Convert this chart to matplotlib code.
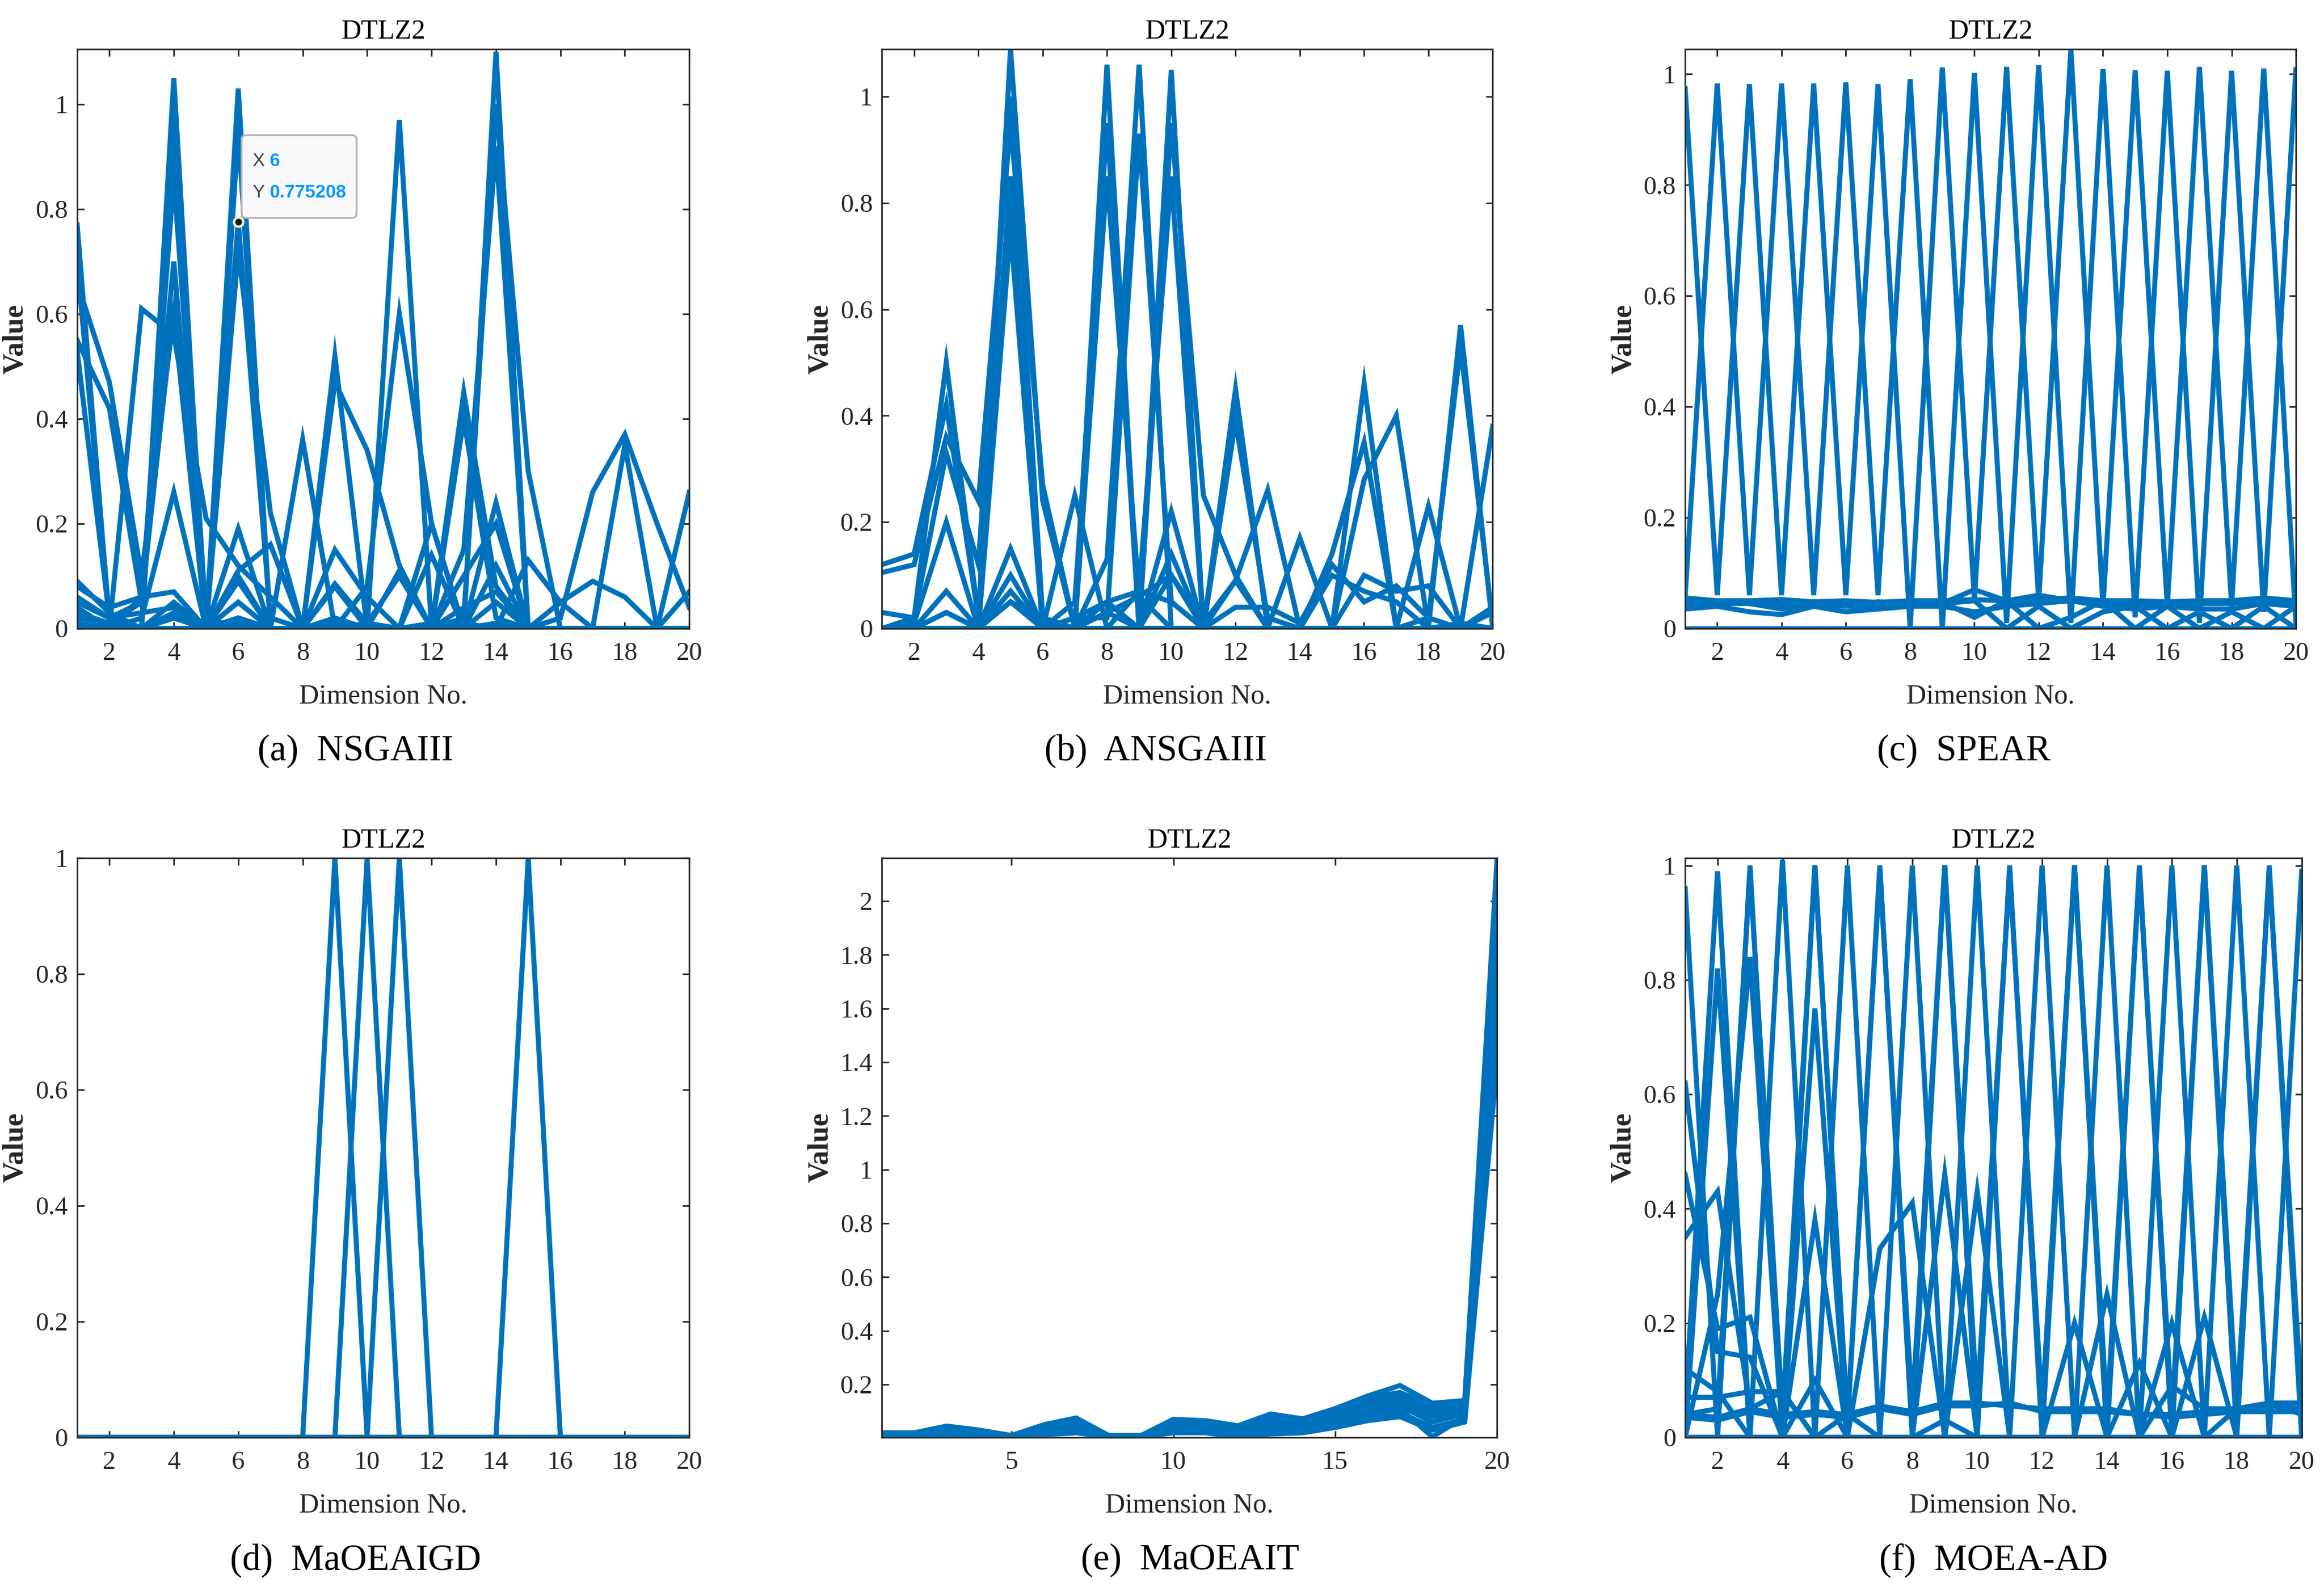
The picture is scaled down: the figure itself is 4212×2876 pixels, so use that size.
import matplotlib
matplotlib.use("Agg")
import matplotlib.pyplot as plt
from matplotlib.patches import FancyBboxPatch
from matplotlib.ticker import FuncFormatter
from matplotlib.transforms import Affine2D, ScaledTranslation

# ---------------------------------------------------------------- data
dims = list(range(1, 21))
yticks_unit = [0, 0.2, 0.4, 0.6, 0.8, 1]
yticks_it = [0.2, 0.4, 0.6, 0.8, 1.0, 1.2, 1.4, 1.6, 1.8, 2.0]
xticks_even = [2, 4, 6, 8, 10, 12, 14, 16, 18, 20]
xticks_five = [5, 10, 15, 20]

nsgaiii_lines = [
    [0.77, 0.01, 0.00, 0.02, 0.00, 0.01, 0.00, 0.00, 0.01, 0.00, 0.00, 0.00, 0.01, 0.00, 0.00, 0.00, 0.00, 0.00, 0.00, 0.00],
    [0.70, 0.02, 0.00, 0.95, 0.02, 0.00, 0.00, 0.00, 0.00, 0.01, 0.00, 0.00, 0.00, 0.00, 0.00, 0.00, 0.00, 0.00, 0.00, 0.00],
    [0.66, 0.47, 0.10, 0.60, 0.00, 0.02, 0.00, 0.00, 0.01, 0.00, 0.00, 0.01, 0.00, 0.00, 0.00, 0.00, 0.00, 0.00, 0.00, 0.00],
    [0.55, 0.42, 0.05, 0.86, 0.02, 0.00, 0.00, 0.00, 0.00, 0.00, 0.00, 0.00, 0.00, 0.01, 0.00, 0.00, 0.00, 0.00, 0.00, 0.00],
    [0.53, 0.02, 0.00, 0.03, 0.00, 0.775208, 0.02, 0.00, 0.00, 0.00, 0.00, 0.00, 0.00, 0.00, 0.00, 0.00, 0.00, 0.00, 0.00, 0.00],
    [0.00, 0.00, 0.61, 0.56, 0.21, 0.12, 0.06, 0.00, 0.01, 0.00, 0.00, 0.00, 0.00, 0.00, 0.00, 0.00, 0.00, 0.00, 0.00, 0.00],
    [0.02, 0.01, 0.00, 1.05, 0.00, 0.01, 0.00, 0.00, 0.00, 0.00, 0.00, 0.00, 0.00, 0.05, 0.00, 0.00, 0.00, 0.00, 0.00, 0.00],
    [0.09, 0.03, 0.00, 0.97, 0.00, 0.00, 0.00, 0.00, 0.00, 0.00, 0.00, 0.00, 0.00, 0.00, 0.00, 0.00, 0.00, 0.00, 0.00, 0.00],
    [0.06, 0.02, 0.05, 0.90, 0.00, 0.10, 0.00, 0.00, 0.00, 0.00, 0.00, 0.00, 0.00, 0.00, 0.00, 0.00, 0.00, 0.00, 0.00, 0.00],
    [0.04, 0.00, 0.06, 0.70, 0.00, 0.05, 0.00, 0.00, 0.02, 0.00, 0.00, 0.00, 0.00, 0.00, 0.00, 0.00, 0.00, 0.00, 0.00, 0.00],
    [0.02, 0.01, 0.05, 0.62, 0.00, 0.00, 0.00, 0.00, 0.00, 0.00, 0.00, 0.00, 0.00, 0.00, 0.00, 0.00, 0.00, 0.00, 0.00, 0.00],
    [0.00, 0.00, 0.02, 0.26, 0.00, 0.00, 0.00, 0.00, 0.00, 0.00, 0.00, 0.00, 0.00, 0.00, 0.00, 0.00, 0.00, 0.00, 0.00, 0.00],
    [0.00, 0.01, 0.00, 0.02, 0.00, 1.03, 0.00, 0.00, 0.00, 0.00, 0.00, 0.00, 0.00, 0.00, 0.00, 0.00, 0.00, 0.00, 0.00, 0.00],
    [0.01, 0.00, 0.00, 0.00, 0.00, 0.95, 0.00, 0.00, 0.00, 0.00, 0.00, 0.00, 0.00, 0.00, 0.00, 0.00, 0.00, 0.00, 0.00, 0.00],
    [0.00, 0.00, 0.00, 0.00, 0.00, 0.72, 0.22, 0.00, 0.00, 0.00, 0.00, 0.00, 0.00, 0.00, 0.00, 0.00, 0.00, 0.00, 0.00, 0.00],
    [0.00, 0.00, 0.00, 0.00, 0.00, 0.19, 0.00, 0.36, 0.00, 0.00, 0.00, 0.00, 0.00, 0.00, 0.00, 0.00, 0.00, 0.00, 0.00, 0.00],
    [0.00, 0.00, 0.00, 0.00, 0.00, 0.00, 0.00, 0.00, 0.52, 0.00, 0.97, 0.00, 0.00, 0.00, 0.00, 0.00, 0.00, 0.00, 0.00, 0.00],
    [0.00, 0.00, 0.00, 0.00, 0.00, 0.11, 0.16, 0.00, 0.47, 0.34, 0.12, 0.00, 0.00, 0.00, 0.00, 0.00, 0.00, 0.00, 0.00, 0.00],
    [0.00, 0.00, 0.00, 0.00, 0.00, 0.00, 0.00, 0.00, 0.00, 0.08, 0.60, 0.20, 0.00, 0.00, 0.00, 0.00, 0.00, 0.00, 0.00, 0.00],
    [0.00, 0.00, 0.00, 0.00, 0.00, 0.00, 0.00, 0.00, 0.00, 0.00, 0.00, 0.00, 0.45, 0.08, 0.00, 0.00, 0.00, 0.00, 0.00, 0.00],
    [0.00, 0.00, 0.00, 0.00, 0.00, 0.00, 0.00, 0.00, 0.00, 0.00, 0.00, 0.00, 0.40, 0.02, 0.00, 0.00, 0.00, 0.00, 0.00, 0.00],
    [0.00, 0.00, 0.00, 0.00, 0.00, 0.00, 0.00, 0.00, 0.00, 0.00, 0.00, 0.00, 0.00, 1.10, 0.00, 0.00, 0.00, 0.00, 0.00, 0.00],
    [0.00, 0.00, 0.00, 0.00, 0.00, 0.00, 0.00, 0.00, 0.00, 0.00, 0.00, 0.00, 0.02, 1.00, 0.30, 0.00, 0.00, 0.00, 0.00, 0.00],
    [0.00, 0.00, 0.00, 0.00, 0.00, 0.00, 0.00, 0.00, 0.00, 0.00, 0.00, 0.00, 0.15, 0.92, 0.00, 0.00, 0.00, 0.00, 0.00, 0.00],
    [0.00, 0.00, 0.00, 0.00, 0.00, 0.00, 0.00, 0.00, 0.00, 0.00, 0.00, 0.14, 0.00, 0.24, 0.00, 0.05, 0.00, 0.00, 0.00, 0.00],
    [0.00, 0.00, 0.00, 0.00, 0.00, 0.00, 0.00, 0.00, 0.00, 0.00, 0.00, 0.00, 0.00, 0.00, 0.00, 0.02, 0.26, 0.37, 0.20, 0.04],
    [0.00, 0.00, 0.00, 0.00, 0.00, 0.00, 0.00, 0.00, 0.00, 0.00, 0.00, 0.00, 0.00, 0.00, 0.00, 0.00, 0.00, 0.35, 0.00, 0.26],
    [0.00, 0.00, 0.00, 0.00, 0.00, 0.00, 0.00, 0.00, 0.00, 0.00, 0.00, 0.00, 0.00, 0.00, 0.13, 0.05, 0.09, 0.06, 0.00, 0.07],
    [0.08, 0.04, 0.06, 0.07, 0.00, 0.05, 0.00, 0.00, 0.08, 0.00, 0.11, 0.00, 0.10, 0.20, 0.00, 0.00, 0.00, 0.00, 0.00, 0.00],
    [0.05, 0.02, 0.03, 0.04, 0.00, 0.02, 0.00, 0.00, 0.15, 0.06, 0.00, 0.20, 0.00, 0.12, 0.00, 0.00, 0.00, 0.00, 0.00, 0.00],
    [0.03, 0.01, 0.00, 0.05, 0.00, 0.09, 0.00, 0.00, 0.085, 0.01, 0.10, 0.00, 0.04, 0.07, 0.00, 0.00, 0.00, 0.00, 0.00, 0.00],
]

ansgaiii_lines = [
    [0.12, 0.14, 0.42, 0.02, 1.09, 0.24, 0.00, 0.00, 0.00, 0.00, 0.00, 0.00, 0.00, 0.00, 0.00, 0.00, 0.00, 0.00, 0.00, 0.00],
    [0.105, 0.12, 0.36, 0.24, 0.95, 0.27, 0.00, 0.00, 0.00, 0.00, 0.00, 0.00, 0.00, 0.00, 0.00, 0.00, 0.00, 0.00, 0.00, 0.00],
    [0.03, 0.02, 0.50, 0.02, 0.85, 0.00, 0.00, 0.05, 0.00, 0.00, 0.00, 0.00, 0.00, 0.00, 0.00, 0.00, 0.00, 0.00, 0.00, 0.00],
    [0.00, 0.02, 0.33, 0.12, 1.00, 0.02, 0.00, 0.00, 0.00, 0.00, 0.00, 0.00, 0.00, 0.00, 0.00, 0.00, 0.00, 0.00, 0.00, 0.00],
    [0.00, 0.01, 0.20, 0.00, 0.80, 0.00, 0.00, 0.00, 0.00, 0.00, 0.00, 0.00, 0.00, 0.00, 0.00, 0.00, 0.00, 0.00, 0.00, 0.00],
    [0.00, 0.00, 0.07, 0.00, 0.75, 0.00, 0.00, 0.00, 0.00, 0.00, 0.00, 0.00, 0.00, 0.00, 0.00, 0.00, 0.00, 0.00, 0.00, 0.00],
    [0.00, 0.00, 0.03, 0.00, 0.15, 0.00, 0.25, 0.00, 0.00, 0.00, 0.00, 0.00, 0.00, 0.00, 0.00, 0.00, 0.00, 0.00, 0.00, 0.00],
    [0.00, 0.00, 0.00, 0.00, 0.10, 0.00, 0.00, 1.06, 0.00, 0.00, 0.00, 0.00, 0.00, 0.00, 0.00, 0.00, 0.00, 0.00, 0.00, 0.00],
    [0.00, 0.00, 0.00, 0.00, 0.07, 0.00, 0.05, 0.95, 0.00, 0.00, 0.00, 0.00, 0.00, 0.00, 0.00, 0.00, 0.00, 0.00, 0.00, 0.00],
    [0.00, 0.00, 0.00, 0.00, 0.05, 0.02, 0.00, 0.85, 0.06, 0.00, 0.00, 0.00, 0.00, 0.00, 0.00, 0.00, 0.00, 0.00, 0.00, 0.00],
    [0.00, 0.00, 0.00, 0.00, 0.00, 0.00, 0.00, 0.13, 1.06, 0.00, 0.00, 0.00, 0.00, 0.00, 0.00, 0.00, 0.00, 0.00, 0.00, 0.00],
    [0.00, 0.00, 0.00, 0.00, 0.00, 0.00, 0.02, 0.02, 0.93, 0.05, 0.00, 0.00, 0.00, 0.00, 0.00, 0.00, 0.00, 0.00, 0.00, 0.00],
    [0.00, 0.00, 0.00, 0.00, 0.00, 0.00, 0.00, 0.00, 0.00, 1.05, 0.00, 0.00, 0.00, 0.00, 0.00, 0.00, 0.00, 0.00, 0.00, 0.00],
    [0.00, 0.00, 0.00, 0.00, 0.00, 0.00, 0.00, 0.03, 0.00, 0.95, 0.25, 0.10, 0.00, 0.00, 0.00, 0.00, 0.00, 0.00, 0.00, 0.00],
    [0.00, 0.00, 0.00, 0.00, 0.00, 0.00, 0.00, 0.00, 0.07, 0.85, 0.00, 0.00, 0.00, 0.00, 0.00, 0.00, 0.00, 0.00, 0.00, 0.00],
    [0.00, 0.00, 0.00, 0.00, 0.00, 0.00, 0.00, 0.00, 0.00, 0.22, 0.00, 0.45, 0.00, 0.00, 0.00, 0.00, 0.00, 0.00, 0.00, 0.00],
    [0.00, 0.00, 0.00, 0.00, 0.00, 0.00, 0.00, 0.00, 0.00, 0.14, 0.00, 0.39, 0.02, 0.00, 0.00, 0.00, 0.00, 0.00, 0.00, 0.00],
    [0.00, 0.00, 0.00, 0.00, 0.00, 0.00, 0.00, 0.00, 0.00, 0.10, 0.00, 0.09, 0.26, 0.00, 0.00, 0.00, 0.00, 0.00, 0.00, 0.00],
    [0.00, 0.00, 0.00, 0.00, 0.00, 0.00, 0.00, 0.00, 0.00, 0.00, 0.00, 0.00, 0.00, 0.17, 0.00, 0.46, 0.00, 0.00, 0.00, 0.00],
    [0.00, 0.00, 0.00, 0.00, 0.00, 0.00, 0.00, 0.00, 0.00, 0.00, 0.00, 0.00, 0.00, 0.00, 0.14, 0.35, 0.00, 0.23, 0.00, 0.00],
    [0.00, 0.00, 0.00, 0.00, 0.00, 0.00, 0.00, 0.00, 0.00, 0.00, 0.00, 0.00, 0.00, 0.00, 0.00, 0.28, 0.40, 0.00, 0.57, 0.00],
    [0.00, 0.00, 0.00, 0.00, 0.00, 0.00, 0.00, 0.00, 0.00, 0.00, 0.00, 0.00, 0.00, 0.00, 0.00, 0.00, 0.00, 0.02, 0.53, 0.01],
    [0.00, 0.00, 0.00, 0.00, 0.00, 0.00, 0.00, 0.00, 0.00, 0.00, 0.00, 0.00, 0.00, 0.00, 0.00, 0.00, 0.00, 0.00, 0.00, 0.38],
    [0.00, 0.00, 0.00, 0.00, 0.00, 0.00, 0.00, 0.00, 0.00, 0.00, 0.00, 0.00, 0.00, 0.00, 0.00, 0.10, 0.07, 0.08, 0.00, 0.04],
    [0.00, 0.00, 0.03, 0.00, 0.07, 0.00, 0.02, 0.05, 0.07, 0.05, 0.00, 0.04, 0.04, 0.01, 0.12, 0.05, 0.08, 0.02, 0.00, 0.03],
    [0.00, 0.00, 0.00, 0.00, 0.05, 0.00, 0.00, 0.03, 0.06, 0.10, 0.01, 0.09, 0.00, 0.00, 0.10, 0.07, 0.05, 0.00, 0.01, 0.00],
]

spear_lines = [
    [0.974, 0.060, 0.982, 0.060, 0.983, 0.060, 0.982, 0.000, 1.012, 0.050, 1.013, 0.050, 1.045, 0.040, 1.007, 0.040, 1.013, 0.040, 1.010, 0.010],
    [0.058, 0.983, 0.060, 0.983, 0.060, 0.985, 0.060, 0.991, 0.000, 1.002, 0.010, 1.016, 0.010, 1.009, 0.020, 1.006, 0.010, 1.006, 0.030, 1.008],
    [0.055, 0.050, 0.050, 0.052, 0.048, 0.050, 0.047, 0.050, 0.050, 0.052, 0.050, 0.052, 0.055, 0.050, 0.050, 0.048, 0.050, 0.050, 0.055, 0.050],
    [0.040, 0.045, 0.045, 0.035, 0.045, 0.040, 0.040, 0.042, 0.045, 0.070, 0.050, 0.060, 0.050, 0.045, 0.045, 0.040, 0.045, 0.045, 0.050, 0.045],
    [0.035, 0.040, 0.030, 0.025, 0.040, 0.030, 0.035, 0.040, 0.040, 0.030, 0.040, 0.045, 0.050, 0.040, 0.035, 0.040, 0.035, 0.035, 0.045, 0.040],
    [0.050, 0.048, 0.045, 0.045, 0.048, 0.045, 0.045, 0.048, 0.048, 0.020, 0.050, 0.000, 0.020, 0.050, 0.000, 0.040, 0.000, 0.030, 0.000, 0.040],
    [0.048, 0.045, 0.048, 0.042, 0.045, 0.042, 0.048, 0.045, 0.045, 0.050, 0.000, 0.040, 0.000, 0.030, 0.040, 0.000, 0.030, 0.000, 0.040, 0.000],
    [0.000, 0.000, 0.000, 0.000, 0.000, 0.000, 0.000, 0.000, 0.000, 0.000, 0.000, 0.000, 0.000, 0.000, 0.000, 0.000, 0.000, 0.000, 0.000, 0.000],
]

maoeaigd_lines = [
    [0, 0, 0, 0, 0, 0, 0, 0, 0, 0, 0, 0, 0, 0, 0, 0, 0, 0, 0, 0],
    [0, 0, 0, 0, 0, 0, 0, 0, 1, 0, 0, 0, 0, 0, 0, 0, 0, 0, 0, 0],
    [0, 0, 0, 0, 0, 0, 0, 0, 0, 1, 0, 0, 0, 0, 0, 0, 0, 0, 0, 0],
    [0, 0, 0, 0, 0, 0, 0, 0, 0, 0, 1, 0, 0, 0, 0, 0, 0, 0, 0, 0],
    [0, 0, 0, 0, 0, 0, 0, 0, 0, 0, 0, 0, 0, 0, 1, 0, 0, 0, 0, 0],
]

maoeait_lines = [
    [0.020, 0.020, 0.045, 0.030, 0.010, 0.050, 0.075, 0.010, 0.010, 0.070, 0.065, 0.046, 0.090, 0.072, 0.110, 0.157, 0.196, 0.130, 0.140, 2.160],
    [0.018, 0.016, 0.040, 0.028, 0.008, 0.045, 0.065, 0.010, 0.008, 0.062, 0.060, 0.040, 0.075, 0.070, 0.105, 0.150, 0.170, 0.120, 0.135, 2.100],
    [0.015, 0.014, 0.035, 0.025, 0.006, 0.040, 0.060, 0.008, 0.007, 0.055, 0.055, 0.035, 0.065, 0.065, 0.095, 0.135, 0.160, 0.110, 0.125, 2.000],
    [0.012, 0.012, 0.030, 0.020, 0.005, 0.035, 0.050, 0.006, 0.006, 0.050, 0.050, 0.032, 0.055, 0.060, 0.090, 0.125, 0.150, 0.100, 0.120, 1.950],
    [0.010, 0.010, 0.026, 0.018, 0.005, 0.030, 0.045, 0.005, 0.005, 0.045, 0.045, 0.030, 0.045, 0.055, 0.085, 0.115, 0.140, 0.090, 0.110, 1.900],
    [0.008, 0.008, 0.022, 0.015, 0.004, 0.025, 0.040, 0.005, 0.005, 0.040, 0.040, 0.025, 0.040, 0.045, 0.080, 0.105, 0.130, 0.080, 0.100, 1.800],
    [0.006, 0.006, 0.018, 0.012, 0.004, 0.022, 0.035, 0.004, 0.004, 0.035, 0.035, 0.020, 0.030, 0.040, 0.070, 0.095, 0.120, 0.060, 0.090, 1.700],
    [0.005, 0.005, 0.015, 0.010, 0.004, 0.018, 0.030, 0.004, 0.004, 0.030, 0.030, 0.018, 0.025, 0.035, 0.060, 0.085, 0.110, 0.005, 0.080, 1.600],
    [0.004, 0.004, 0.012, 0.008, 0.003, 0.015, 0.025, 0.003, 0.003, 0.025, 0.025, 0.012, 0.020, 0.025, 0.050, 0.075, 0.095, 0.040, 0.070, 1.500],
    [0.003, 0.003, 0.010, 0.006, 0.003, 0.012, 0.020, 0.003, 0.003, 0.020, 0.020, 0.003, 0.015, 0.020, 0.040, 0.065, 0.080, 0.030, 0.060, 1.400],
]

moeaad_lines = [
    [0.96, 0.00, 1.00, 0.00, 1.00, 0.02, 1.00, 0.00, 1.00, 0.00, 1.00, 0.00, 1.00, 0.00, 1.00, 0.00, 1.00, 0.00, 1.00, 0.00],
    [0.05, 0.99, 0.00, 1.01, 0.00, 1.00, 0.00, 1.00, 0.00, 1.00, 0.00, 1.00, 0.00, 1.00, 0.00, 1.00, 0.00, 1.00, 0.00, 0.99],
    [0.04, 0.05, 0.99, 0.04, 1.00, 0.03, 0.99, 0.05, 1.00, 0.06, 0.99, 0.05, 1.00, 0.04, 0.99, 0.04, 1.00, 0.05, 0.99, 0.06],
    [0.62, 0.15, 0.14, 0.00, 0.38, 0.00, 0.00, 0.00, 0.46, 0.00, 0.00, 0.00, 0.00, 0.00, 0.00, 0.00, 0.00, 0.00, 0.00, 0.00],
    [0.46, 0.19, 0.21, 0.00, 0.10, 0.00, 0.00, 0.00, 0.00, 0.43, 0.00, 0.00, 0.00, 0.00, 0.00, 0.00, 0.00, 0.00, 0.00, 0.00],
    [0.35, 0.43, 0.05, 0.08, 0.00, 0.00, 0.33, 0.41, 0.00, 0.00, 0.00, 0.00, 0.00, 0.00, 0.00, 0.00, 0.00, 0.00, 0.00, 0.00],
    [0.00, 0.82, 0.00, 0.00, 0.75, 0.00, 0.00, 0.00, 0.00, 0.00, 0.00, 0.00, 0.00, 0.00, 0.00, 0.00, 0.00, 0.00, 0.00, 0.00],
    [0.00, 0.25, 0.84, 0.00, 0.00, 0.00, 0.00, 0.00, 0.00, 0.00, 0.00, 0.00, 0.00, 0.00, 0.00, 0.00, 0.00, 0.00, 0.00, 0.00],
    [0.12, 0.08, 0.00, 0.00, 0.00, 0.00, 0.00, 0.00, 0.00, 0.00, 0.00, 0.00, 0.00, 0.00, 0.00, 0.00, 0.00, 0.00, 0.00, 0.00],
    [0.07, 0.07, 0.08, 0.08, 0.00, 0.04, 0.00, 0.00, 0.03, 0.00, 0.00, 0.00, 0.00, 0.00, 0.00, 0.00, 0.00, 0.00, 0.00, 0.00],
    [0.04, 0.035, 0.05, 0.04, 0.045, 0.04, 0.055, 0.045, 0.06, 0.06, 0.055, 0.05, 0.05, 0.05, 0.04, 0.04, 0.045, 0.05, 0.055, 0.05],
    [0.035, 0.03, 0.045, 0.035, 0.04, 0.035, 0.05, 0.04, 0.055, 0.055, 0.06, 0.045, 0.045, 0.045, 0.04, 0.035, 0.04, 0.045, 0.045, 0.045],
    [0.00, 0.00, 0.00, 0.00, 0.00, 0.00, 0.00, 0.00, 0.00, 0.00, 0.00, 0.00, 0.20, 0.00, 0.13, 0.00, 0.21, 0.00, 0.00, 0.00],
    [0.00, 0.00, 0.00, 0.00, 0.00, 0.00, 0.00, 0.00, 0.00, 0.00, 0.00, 0.00, 0.00, 0.25, 0.00, 0.20, 0.00, 0.05, 0.06, 0.06],
    [0.00, 0.00, 0.00, 0.00, 0.00, 0.00, 0.00, 0.00, 0.00, 0.00, 0.00, 0.00, 0.00, 0.00, 0.00, 0.09, 0.05, 0.05, 0.06, 0.04],
    [0.00, 0.00, 0.00, 0.00, 0.00, 0.00, 0.00, 0.00, 0.00, 0.00, 0.00, 0.00, 0.00, 0.00, 0.00, 0.00, 0.00, 0.00, 0.00, 0.00],
]

captions = ["(a)  NSGAIII", "(b)  ANSGAIII", "(c)  SPEAR",
            "(d)  MaOEAIGD", "(e)  MaOEAIT", "(f)  MOEA-AD"]
problem = "DTLZ2"
tip_x, tip_y = 6, 0.775208

# ---------------------------------------------------------------- style
plt.rcParams["font.family"] = ["Liberation Serif", "DejaVu Serif"]
blue = "#0072BD"
ink = "#262626"

panels = [
    dict(lines=nsgaiii_lines, ylim=(0, 1.105), yticks=yticks_unit, xticks=xticks_even,
         rect=[0.0332, 0.604, 0.2634, 0.365], cap=(0.1531, 0.5266)),
    dict(lines=ansgaiii_lines, ylim=(0, 1.089), yticks=yticks_unit, xticks=xticks_even,
         rect=[0.3795, 0.604, 0.2628, 0.365], cap=(0.4974, 0.5266)),
    dict(lines=spear_lines, ylim=(0, 1.045), yticks=yticks_unit, xticks=xticks_even,
         rect=[0.7251, 0.604, 0.2628, 0.365], cap=(0.8450, 0.5266)),
    dict(lines=maoeaigd_lines, ylim=(0, 1.0), yticks=yticks_unit, xticks=xticks_even,
         rect=[0.0332, 0.0943, 0.2634, 0.365], cap=(0.1531, 0.0168)),
    dict(lines=maoeait_lines, ylim=(0.003, 2.16), yticks=yticks_it, xticks=xticks_five,
         rect=[0.3795, 0.0943, 0.2647, 0.365], cap=(0.5121, 0.0168)),
    dict(lines=moeaad_lines, ylim=(0, 1.013), yticks=yticks_unit, xticks=xticks_even,
         rect=[0.7251, 0.0943, 0.2653, 0.365], cap=(0.8578, 0.0168)),
]

fmt = FuncFormatter(lambda v, pos: f"{v:g}")

fig = plt.figure(figsize=(21.06, 14.38), dpi=200)
axes = []
for spec, caption in zip(panels, captions):
    ax = fig.add_axes(spec["rect"])
    for line in spec["lines"]:
        ax.plot(dims, line, color=blue, lw=3.3, solid_joinstyle="miter")
    ax.set_xlim(1, 20)
    ax.set_ylim(*spec["ylim"])
    ax.set_xticks(spec["xticks"])
    ax.set_yticks(spec["yticks"])
    ax.xaxis.set_major_formatter(fmt)
    ax.yaxis.set_major_formatter(fmt)
    ax.tick_params(direction="in", top=True, right=True, length=4.5, width=1.0,
                   labelsize=17, pad=6, colors=ink)
    ax.tick_params(axis="x", pad=9)
    for sp in ax.spines.values():
        sp.set_linewidth(1.0)
        sp.set_color(ink)
    ax.set_title(problem, fontsize=18, color="black", pad=7)
    ax.set_xlabel("Dimension No.", fontsize=18, color=ink)
    ax.set_ylabel("Value", fontsize=19, fontweight="bold", color=ink)
    ax.xaxis.set_label_coords(0.5, -0.095)
    ax.yaxis.set_label_coords(-0.079, 0.5)
    fig.text(spec["cap"][0], spec["cap"][1], caption, ha="center", va="center",
             fontsize=24, color="black")
    axes.append(ax)

# data tip on the first panel
ax = axes[0]
tip = Affine2D().scale(fig.dpi / 72.0) + ScaledTranslation(tip_x, tip_y, ax.transData)
box = FancyBboxPatch((2.2, 2.7), 75, 54, boxstyle="round,pad=0,rounding_size=3",
                     transform=tip, fc="#f9f9fc", ec="#b4b4b8", lw=1.2, zorder=6,
                     clip_on=False)
ax.add_patch(box)
tip_font = ["Liberation Sans", "DejaVu Sans"]
ax.text(9, 39.5, "X", transform=tip, fontsize=12, color="#404040", va="center",
        family=tip_font, zorder=7)
ax.text(20.6, 39.5, f"{tip_x:g}", transform=tip, fontsize=12, color="#0a98ff",
        fontweight="bold", va="center", family=tip_font, zorder=7)
ax.text(9, 19, "Y", transform=tip, fontsize=12, color="#404040", va="center",
        family=tip_font, zorder=7)
ax.text(20.6, 19, f"{tip_y:g}", transform=tip, fontsize=12, color="#0a98ff",
        fontweight="bold", va="center", family=tip_font, zorder=7)
ax.plot([tip_x], [tip_y], "o", ms=6, mfc="#1a1a1a", mec="#f3eec4", mew=1.6, zorder=8)

fig.savefig("out.png", dpi=200, facecolor="white")
